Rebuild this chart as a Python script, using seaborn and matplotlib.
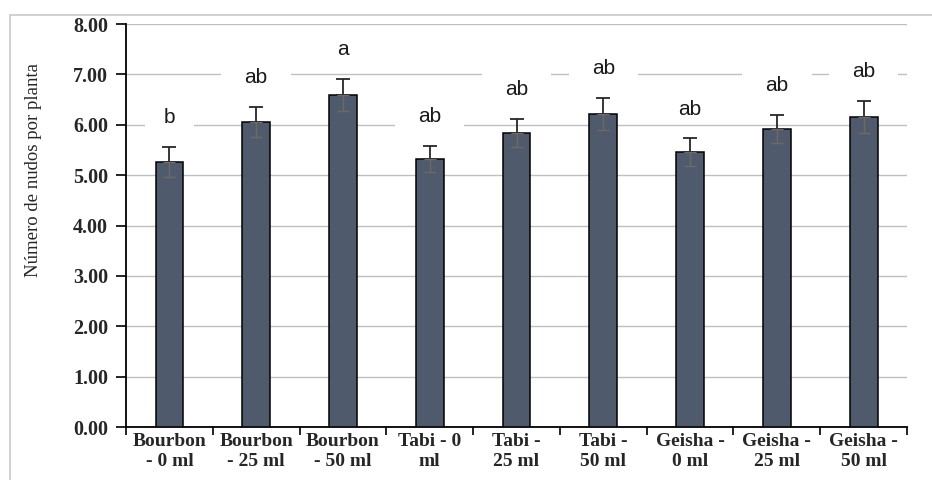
import matplotlib
matplotlib.use("Agg")
import matplotlib.pyplot as plt
import seaborn as sns
import pandas as pd
import numpy as np
from matplotlib.patches import Rectangle

categories = ["Bourbon\n- 0 ml", "Bourbon\n- 25 ml", "Bourbon\n- 50 ml",
              "Tabi - 0\nml", "Tabi -\n25 ml", "Tabi -\n50 ml",
              "Geisha -\n0 ml", "Geisha -\n25 ml", "Geisha -\n50 ml"]
means = [5.26, 6.05, 6.59, 5.32, 5.83, 6.21, 5.46, 5.91, 6.15]
errors = [0.30, 0.30, 0.32, 0.26, 0.28, 0.32, 0.27, 0.28, 0.32]
letters = ["b", "ab", "a", "ab", "ab", "ab", "ab", "ab", "ab"]
yticks = [0, 1, 2, 3, 4, 5, 6, 7, 8]

sns.set_theme(style="white")
plt.rcParams["font.family"] = ["Liberation Serif", "DejaVu Serif"]

fig = plt.figure(figsize=(9.32, 4.8), dpi=100)
ax = fig.add_axes([0.1352, 0.1104, 0.9732 - 0.1352, 0.95 - 0.1104])

fig.patches.append(Rectangle((10 / 932, -0.1), 1.2, (480 - 15) / 480 + 0.1,
                             transform=fig.transFigure, fill=False,
                             edgecolor="#C8C8C8", linewidth=1.2, zorder=0))

df = pd.DataFrame({"cat": categories, "mean": means})
sns.barplot(data=df, x="cat", y="mean", color="#4F5B6D", saturation=1,
            edgecolor="black", linewidth=1.1, width=0.32, errorbar=None,
            ax=ax, zorder=3)

x = np.arange(len(categories))
ax.errorbar(x, means, yerr=[np.zeros(len(errors)), errors], fmt="none",
            ecolor="#262626", elinewidth=1.3, capsize=5, capthick=1.3, zorder=4)
ax.errorbar(x, means, yerr=[errors, np.zeros(len(errors))], fmt="none",
            ecolor="#6E6A62", elinewidth=1.0, capsize=4, capthick=1.0, zorder=4)

# significance letters, each on a white label box that interrupts the grid
for xi, m, e, lab in zip(x, means, errors, letters):
    ly = m + e + 0.58
    w = 0.80 if len(lab) > 1 else 0.56
    ax.add_patch(Rectangle((xi - w / 2, ly - 0.24), w, 0.24 + 0.44,
                           facecolor="white", edgecolor="none", zorder=1))
    ax.text(xi, ly, lab, ha="center", va="center", fontsize=15,
            family=["Liberation Sans", "DejaVu Sans"], color="#1a1a1a",
            zorder=5)

ax.set_ylim(0, 8)
ax.set_xlim(-0.5, len(categories) - 0.5)
ax.set_yticks(yticks)
ax.set_yticklabels([f"{v:.2f}" for v in yticks], fontsize=14.5, fontweight="bold")
ax.yaxis.grid(True, color="#C0C0C0", linewidth=1.0, zorder=0)
ax.set_axisbelow(True)

ax.set_xticks(np.arange(-0.5, len(categories), 1.0))
ax.set_xticklabels([])
ax.set_xticks(x, minor=True)
ax.set_xticklabels(categories, minor=True, fontsize=14, fontweight="bold",
                   linespacing=1.25)
ax.tick_params(axis="x", which="major", direction="out", length=6, width=1.2,
               color="black", bottom=True)
ax.tick_params(axis="x", which="minor", length=0, pad=4)
ax.tick_params(axis="y", direction="out", length=7, width=1.2, color="black",
               left=True, pad=6)
ax.set_xlabel("")
ax.set_ylabel("Número de nudos por planta", fontsize=13.5)
ax.yaxis.set_label_coords((42 - 126) / 781, (427 - 170) / 403)

for s in ["top", "right"]:
    ax.spines[s].set_visible(False)
for s in ["left", "bottom"]:
    ax.spines[s].set_color("black")
    ax.spines[s].set_linewidth(1.3)

fig.savefig("out.png", dpi=100)
